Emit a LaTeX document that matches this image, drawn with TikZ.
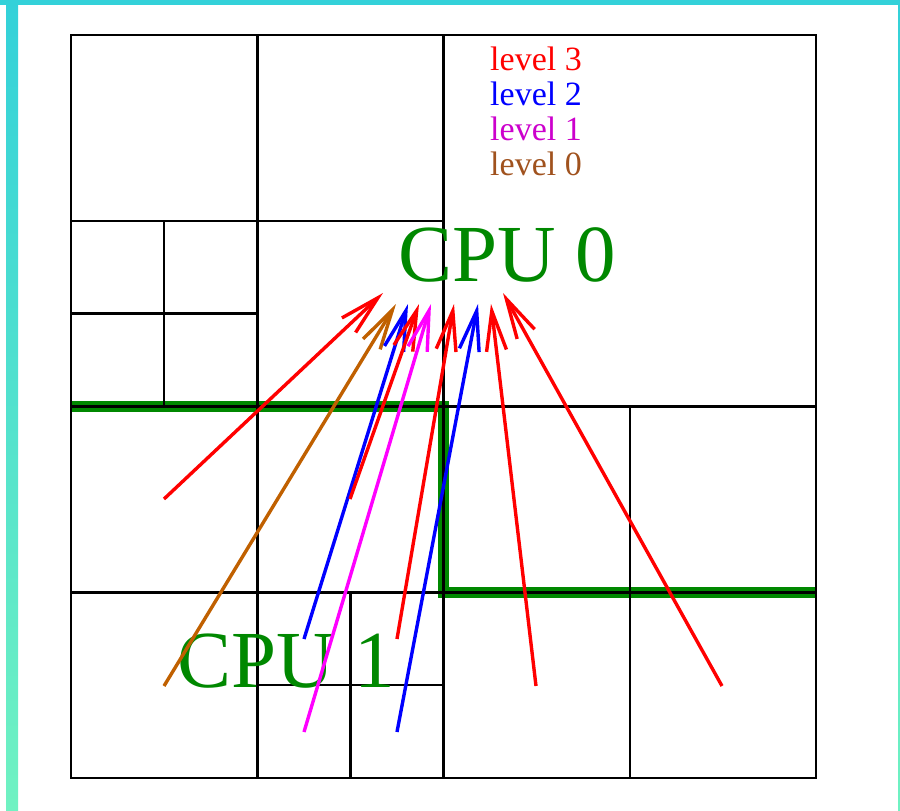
\documentclass[tikz,border=0pt]{standalone}
\usepackage{fontspec}
\setmainfont{Liberation Serif}
\usetikzlibrary{arrows.meta}
\definecolor{bandtop}{RGB}{51,209,217}
\definecolor{bandbot}{RGB}{112,242,194}
\definecolor{cpugreen}{RGB}{0,136,0}
\definecolor{lvlone}{RGB}{204,0,204}
\definecolor{lvlzero}{RGB}{160,82,30}
\definecolor{brownarrow}{RGB}{192,96,0}
\definecolor{magarrow}{RGB}{255,0,255}
\definecolor{redarrow}{RGB}{255,0,0}
\definecolor{bluearrow}{RGB}{0,0,255}
\begin{document}
\begin{tikzpicture}[x=1pt,y=-1pt,
  gridline/.style={line width=2.5pt,black},
  ptr/.style={line width=3.4pt,-{Straight Barb[length=40pt,width=20pt,line width=3.4pt]}},
  lbl/.style={inner sep=0pt,anchor=base west,font=\fontsize{34}{35}\selectfont},
  cpu/.style={inner sep=0pt,anchor=base west,text=cpugreen,font=\fontsize{81}{81}\selectfont}]
\useasboundingbox (0,0) rectangle (900,811);
% frame bands
\fill[bandtop] (0,0) rectangle (900,5);
\shade[top color=bandtop,bottom color=bandbot] (6,0) rectangle (18,811);
\shade[top color=bandtop,bottom color=bandbot] (898,0) rectangle (900,811);
% green partition boundary
\draw[cpugreen,line width=11pt] (71,406.5) -- (443.5,406.5) -- (443.5,592.25) -- (816,592.25);
% quadtree grid
\draw[gridline] (71,35) rectangle (816,778);
\draw[gridline] (443.5,35) -- (443.5,778);
\draw[gridline] (71,406.5) -- (816,406.5);
\draw[gridline] (257.25,35) -- (257.25,406.5);
\draw[gridline] (71,220.75) -- (443.5,220.75);
\draw[gridline] (164.1,220.75) -- (164.1,406.5);
\draw[gridline] (71,313.6) -- (257.25,313.6);
\draw[gridline] (257.25,406.5) -- (257.25,778);
\draw[gridline] (71,592.25) -- (443.5,592.25);
\draw[gridline] (350.4,592.25) -- (350.4,778);
\draw[gridline] (257.25,685.1) -- (443.5,685.1);
\draw[gridline] (629.75,406.5) -- (629.75,778);
\draw[gridline] (443.5,592.25) -- (816,592.25);
% labels
\node[lbl,text=red] (l3) at (490,70) {level 3};
\node[lbl,text=blue] (l2) at (490,105) {level 2};
\node[lbl,text=lvlone] (l1) at (490,140) {level 1};
\node[lbl,text=lvlzero] (l0) at (490,175) {level 0};
\node[cpu] (cpu0) at (398,281) {CPU 0};
\node[cpu] (cpu1) at (177,687) {CPU 1};
% arrow endpoints
\coordinate (s1) at (164,499);
\coordinate (t1) at (383,293);
\coordinate (s2) at (164,686);
\coordinate (t2) at (396,304);
\coordinate (s3) at (304,639);
\coordinate (t3) at (408,304);
\coordinate (s4) at (350,499);
\coordinate (t4) at (419,304);
\coordinate (s5) at (304,732);
\coordinate (t5) at (431,304);
\coordinate (s6) at (397,639);
\coordinate (t6) at (454,304);
\coordinate (s7) at (397,732);
\coordinate (t7) at (478,304);
\coordinate (s8) at (536,686);
\coordinate (t8) at (491,304);
\coordinate (s9) at (722,686);
\coordinate (t9) at (503,293);
\draw[ptr,redarrow] (s1) -- (t1);
\draw[ptr,brownarrow] (s2) -- (t2);
\draw[ptr,bluearrow] (s3) -- (t3);
\draw[ptr,redarrow] (s4) -- (t4);
\draw[ptr,magarrow] (s5) -- (t5);
\draw[ptr,redarrow] (s6) -- (t6);
\draw[ptr,bluearrow] (s7) -- (t7);
\draw[ptr,redarrow] (s8) -- (t8);
\draw[ptr,redarrow] (s9) -- (t9);
\end{tikzpicture}
\end{document}
